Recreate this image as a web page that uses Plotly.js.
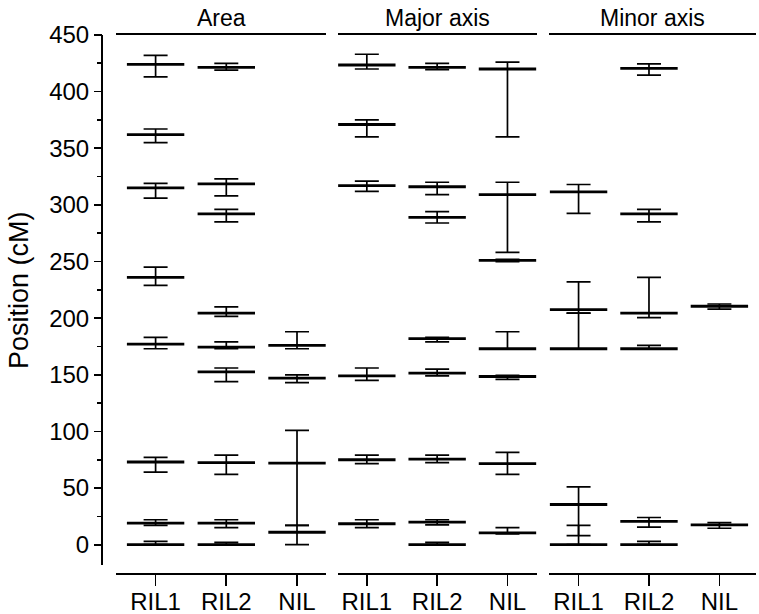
<!DOCTYPE html>
<html>
<head>
<meta charset="utf-8">
<script src="https://cdn.plot.ly/plotly-3.0.1.min.js"></script>
<style>html,body{margin:0;padding:0;background:#fff;}#chart{width:759px;height:614px;}</style>
</head>
<body>
<div id="chart"></div>
<script>
// Categories (populations) and tick labels
const populations = ["RIL1", "RIL2", "NIL"];
const panelTitles = ["Area", "Major axis", "Minor axis"];
const yTitle = "Position (cM)";

// Area: population index, QTL peak position, lower and upper CI limits (cM)
const areaPop  = [0, 0, 0, 0, 0, 0, 0, 0,   1, 1, 1, 1, 1, 1, 1, 1, 1,   2, 2, 2, 2];
const areaPeak = [424, 362, 315, 236, 177, 73, 19, 0,   421.5, 318.5, 292, 204.5, 174.5, 152.5, 72.5, 19, 0,   176, 147, 72, 11];
const areaLo   = [413, 355, 306, 229, 173, 64, 17, 0,   419, 308, 285, 201.5, 173, 144, 62, 15, 0,   173, 143, 17, 0];
const areaHi   = [432, 367, 319, 245, 183, 77, 22, 3,   425, 323, 296, 210, 179, 156, 79, 22, 2,   188, 150, 101, 17];

// Major axis
const majorPop  = [0, 0, 0, 0, 0, 0,   1, 1, 1, 1, 1, 1, 1, 1,   2, 2, 2, 2, 2, 2, 2];
const majorPeak = [423.5, 371, 317, 149, 75, 18.5,   421.5, 316, 289, 182, 151.5, 75.5, 20, 0,   420, 309, 251, 173, 148.5, 71.5, 10.5];
const majorLo   = [420, 360, 312, 145, 71.5, 15,   419.5, 309, 284, 179, 149, 72.5, 17.5, 0,   360, 258, 250, 173, 146, 62, 9.5];
const majorHi   = [433, 375, 321, 156, 79, 22,   425, 320, 294, 183, 155, 79, 22, 2,   426, 320, 252, 188, 149.5, 81.5, 15];

// Minor axis
const minorPop  = [0, 0, 0, 0, 0,   1, 1, 1, 1, 1, 1,   2, 2];
const minorPeak = [311.5, 207.5, 173, 35.5, 0,   420.5, 292, 204.5, 173, 20.5, 0,   210.5, 17.5];
const minorLo   = [292.5, 204.5, 173, 8, 0,   414.5, 285, 200.5, 173, 15.5, 0,   208, 14.5];
const minorHi   = [318, 232, 204.5, 51, 17,   424.5, 296, 236, 176, 24, 3,   212.5, 19.5];

const panels = [
  {pop: areaPop,  peak: areaPeak,  lo: areaLo,  hi: areaHi},
  {pop: majorPop, peak: majorPeak, lo: majorLo, hi: majorHi},
  {pop: minorPop, peak: minorPeak, lo: minorLo, hi: minorHi}
];

const axisIds = ["x", "x2", "x3"];
const traces = panels.map((p, i) => ({
  type: "scatter",
  mode: "markers",
  x: p.pop,
  y: p.peak,
  xaxis: axisIds[i],
  yaxis: "y",
  hoverinfo: "skip",
  marker: {symbol: "line-ew", size: 41, color: "#000", line: {color: "#000", width: 2.8}},
  error_y: {
    type: "data", symmetric: false,
    array: p.hi.map((h, k) => h - p.peak[k]),
    arrayminus: p.peak.map((v, k) => v - p.lo[k]),
    width: 12, thickness: 1.7, color: "#000"
  },
  showlegend: false
}));

const FONT = "Arial, 'Liberation Sans', Helvetica, sans-serif";
const W = 655; // plot width in px (102..757)
function dom(a, b) { return [(a - 102) / W, (b - 102) / W]; }

function xAxis(domain, range) {
  return {
    domain: domain, range: range, anchor: "y",
    tickmode: "array", tickvals: [0, 1, 2], ticktext: populations,
    showline: true, mirror: true, linecolor: "#000", linewidth: 2,
    ticks: "outside", ticklen: 11, tickwidth: 1.7, tickcolor: "#000",
    ticklabelstandoff: -5,
    showgrid: false, zeroline: false, fixedrange: true,
    tickfont: {family: FONT, size: 24, color: "#000"}
  };
}

const layout = {
  width: 759, height: 614,
  margin: {l: 102, r: 2, t: 35, b: 41},
  paper_bgcolor: "#fff", plot_bgcolor: "#fff",
  font: {family: FONT, size: 24, color: "#000"},
  xaxis:  xAxis(dom(116, 326), [-0.56, 2.41]),
  xaxis2: xAxis(dom(338, 537), [-0.41, 2.42]),
  xaxis3: xAxis(dom(549, 756), [-0.42, 2.52]),
  yaxis: {
    anchor: "free", position: 0, range: [-25, 450],
    tickmode: "array", tickvals: [0, 50, 100, 150, 200, 250, 300, 350, 400, 450],
    ticks: "outside", ticklen: 8, tickwidth: 1.7, tickcolor: "#000",
    minor: {tickmode: "array", tickvals: [25, 75, 125, 175, 225, 275, 325, 375, 425], ticks: "outside", ticklen: 5, tickwidth: 1.7, tickcolor: "#000"},
    showline: false, showgrid: false, zeroline: false, fixedrange: true,
    tickfont: {family: FONT, size: 24, color: "#000"}
  },
  shapes: [
    {type: "line", xref: "paper", yref: "y", x0: 0, x1: 0, y0: -18, y1: 450, line: {color: "#000", width: 2}}
  ],
  annotations: panelTitles.map((t, i) => ({
    text: t, xref: (i === 0 ? "x" : "x" + (i + 1)) + " domain", yref: "paper",
    x: 0.5, y: 1 + 17 / 538, xanchor: "center", yanchor: "middle",
    showarrow: false, font: {family: FONT, size: 23, color: "#000"}
  })).concat([{
    text: yTitle, xref: "paper", yref: "paper",
    x: (19 - 102) / W, y: (573 - 290) / 538, xanchor: "center", yanchor: "middle",
    textangle: -90, showarrow: false, font: {family: FONT, size: 27, color: "#000"}
  }])
};

Plotly.newPlot("chart", traces, layout, {displayModeBar: false, staticPlot: true});
</script>
</body>
</html>
